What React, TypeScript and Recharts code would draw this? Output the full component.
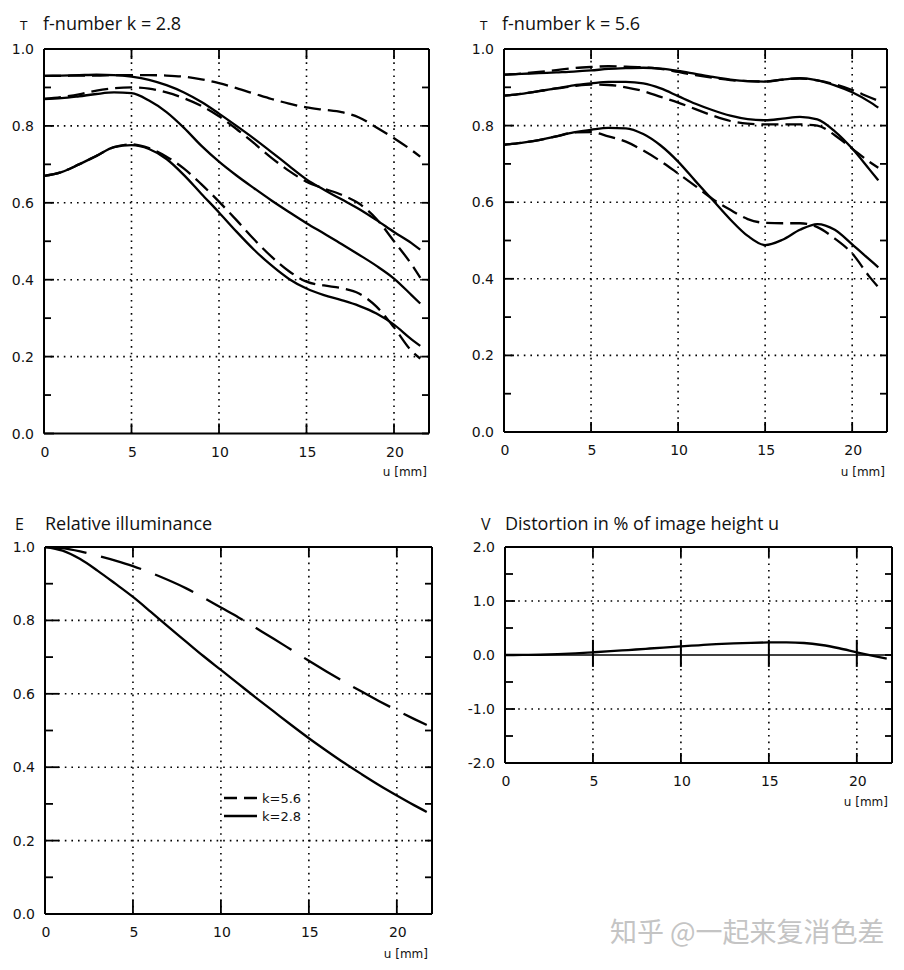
import React from 'react';
import { LineChart, Line, XAxis, YAxis, ReferenceLine } from 'recharts';

// ---------- data ----------
const uTop = [0, 1, 2, 3, 4, 5, 6, 7, 8, 9, 10, 11, 12, 13, 14, 15, 16, 17, 18, 19, 20, 21, 21.5];
const uBottom = [0, 1, 2, 3, 4, 5, 6, 7, 8, 9, 10, 11, 12, 13, 14, 15, 16, 17, 18, 19, 20, 21, 21.7];

// f-number k = 2.8 (solid / dashed pairs)
const k28Solid1 = [0.93, 0.931, 0.932, 0.933, 0.932, 0.928, 0.92, 0.906, 0.887, 0.862, 0.832, 0.8, 0.767, 0.732, 0.696, 0.661, 0.634, 0.609, 0.584, 0.555, 0.524, 0.495, 0.478];
const k28Dash1 = [0.93, 0.93, 0.931, 0.931, 0.932, 0.932, 0.932, 0.931, 0.928, 0.921, 0.911, 0.898, 0.884, 0.87, 0.858, 0.848, 0.842, 0.836, 0.822, 0.796, 0.768, 0.737, 0.72];
const k28Solid2 = [0.87, 0.872, 0.877, 0.883, 0.887, 0.885, 0.866, 0.836, 0.795, 0.748, 0.707, 0.671, 0.638, 0.606, 0.576, 0.547, 0.52, 0.493, 0.465, 0.436, 0.403, 0.36, 0.338];
const k28Dash2 = [0.87, 0.875, 0.882, 0.892, 0.898, 0.9, 0.897, 0.887, 0.872, 0.852, 0.825, 0.792, 0.755, 0.717, 0.683, 0.655, 0.637, 0.621, 0.598, 0.558, 0.5, 0.44, 0.405];
const k28Solid3 = [0.67, 0.68, 0.7, 0.722, 0.745, 0.75, 0.74, 0.714, 0.672, 0.623, 0.575, 0.525, 0.478, 0.437, 0.402, 0.377, 0.36, 0.347, 0.332, 0.312, 0.283, 0.245, 0.228];
const k28Dash3 = [0.67, 0.68, 0.7, 0.722, 0.745, 0.752, 0.742, 0.72, 0.689, 0.648, 0.603, 0.555, 0.505, 0.46, 0.422, 0.395, 0.385, 0.378, 0.364, 0.33, 0.276, 0.215, 0.195];

// f-number k = 5.6
const k56Solid1 = [0.933, 0.935, 0.937, 0.939, 0.941, 0.944, 0.948, 0.95, 0.951, 0.949, 0.943, 0.935, 0.927, 0.92, 0.916, 0.915, 0.92, 0.924, 0.918, 0.905, 0.887, 0.862, 0.847];
const k56Dash1 = [0.933, 0.936, 0.94, 0.945, 0.95, 0.953, 0.955, 0.954, 0.952, 0.948, 0.94, 0.932, 0.925, 0.919, 0.916, 0.915, 0.92, 0.923, 0.918, 0.908, 0.893, 0.874, 0.865];
const k56Solid2 = [0.878, 0.883, 0.89, 0.897, 0.905, 0.91, 0.914, 0.914, 0.91, 0.897, 0.877, 0.857, 0.84, 0.826, 0.817, 0.814, 0.818, 0.823, 0.816, 0.785, 0.74, 0.685, 0.657];
const k56Dash2 = [0.878, 0.883, 0.89, 0.897, 0.903, 0.907, 0.906, 0.9, 0.89, 0.875, 0.86, 0.843, 0.826, 0.812, 0.805, 0.803, 0.803, 0.803, 0.8, 0.775, 0.74, 0.705, 0.69];
const k56Solid3 = [0.75, 0.755, 0.762, 0.772, 0.782, 0.789, 0.794, 0.793, 0.778, 0.748, 0.706, 0.655, 0.605, 0.555, 0.512, 0.488, 0.502, 0.528, 0.543, 0.528, 0.49, 0.45, 0.43];
const k56Dash3 = [0.75, 0.755, 0.762, 0.772, 0.782, 0.783, 0.772, 0.758, 0.735, 0.707, 0.675, 0.642, 0.608, 0.58, 0.556, 0.546, 0.545, 0.545, 0.535, 0.505, 0.466, 0.405, 0.378];

// relative illuminance
const illumK56 = [1.0, 0.997, 0.988, 0.976, 0.963, 0.948, 0.93, 0.91, 0.888, 0.862, 0.835, 0.808, 0.779, 0.75, 0.72, 0.69, 0.661, 0.633, 0.606, 0.58, 0.555, 0.531, 0.515];
const illumK28 = [1.0, 0.99, 0.967, 0.935, 0.9, 0.864, 0.824, 0.783, 0.743, 0.703, 0.665, 0.627, 0.589, 0.552, 0.515, 0.479, 0.445, 0.412, 0.381, 0.351, 0.323, 0.296, 0.278];

// distortion in %
const distortion = [0, 0.001, 0.005, 0.015, 0.03, 0.05, 0.07, 0.092, 0.115, 0.138, 0.16, 0.18, 0.2, 0.215, 0.226, 0.232, 0.233, 0.222, 0.185, 0.125, 0.05, -0.02, -0.065];

// ticks
const xTicks = [0, 5, 10, 15, 20];
const xGrid = [5, 10, 15, 20];
const yTicksUnit = [0, 0.1, 0.2, 0.3, 0.4, 0.5, 0.6, 0.7, 0.8, 0.9, 1.0];
const yGridUnit = [0.2, 0.4, 0.6, 0.8];
const yTicksDist = [-2, -1.5, -1, -0.5, 0, 0.5, 1, 1.5, 2];
const yGridDist = [-1, 1];

// titles
const titleTL = 'f-number k = 2.8';
const titleTR = 'f-number k = 5.6';
const titleBL = 'Relative illuminance';
const titleBR = 'Distortion in % of image height u';
const legendLabels = ['k=5.6', 'k=2.8'];
const watermark = '知乎 @一起来复消色差';

// ---------- helpers ----------
const TICK_FONT = '"DejaVu Sans", sans-serif';
const TITLE_FONT = '"Open Sans", sans-serif';
const INK = '#111';

const PAD_L = 60;
const PAD_R = 12;
const PAD_T = 10;
const PAD_B = 30;

type Series = { key: string; dash?: string };

type PanelProps = {
  px: number;
  py: number;
  pw: number;
  ph: number;
  data: any[];
  series: Series[];
  yDomain: [number, number];
  yTicks: number[];
  yGrid: number[];
  yLabeled: (v: number) => boolean;
  yMinor: number;
  yMajor: number;
  xTickLen: number;
  zeroLine?: boolean;
};

function makeYTick(pw: number, labeled: (v: number) => boolean, minor: number, major: number) {
  return (props: any) => {
    const { x, y, payload } = props;
    const v = payload.value as number;
    const lab = labeled(v);
    const len = lab ? major : minor;
    return (
      <g>
        <line x1={x} x2={x + len} y1={y} y2={y} stroke="#000" strokeWidth={1.8} />
        <line x1={x + pw - 7} x2={x + pw} y1={y} y2={y} stroke="#000" strokeWidth={1.8} />
        {lab && (
          <text x={x - 10} y={y} textAnchor="end" dominantBaseline="central" fontFamily={TICK_FONT} fontSize={14} fill={INK}>
            {v.toFixed(1)}
          </text>
        )}
      </g>
    );
  };
}

function makeXTick(ph: number, len: number) {
  return (props: any) => {
    const { x, y, payload } = props;
    return (
      <g>
        <line x1={x} x2={x} y1={y} y2={y - len} stroke="#000" strokeWidth={1.8} />
        <line x1={x} x2={x} y1={y - ph} y2={y - ph + 10} stroke="#000" strokeWidth={1.8} />
        <text x={x + 1} y={y + 18} textAnchor="middle" dominantBaseline="central" fontFamily={TICK_FONT} fontSize={14} fill={INK}>
          {payload.value}
        </text>
      </g>
    );
  };
}

function Panel(p: PanelProps) {
  const W = p.pw + PAD_L + PAD_R;
  const H = p.ph + PAD_T + PAD_B;
  const [lo, hi] = p.yDomain;
  return (
    <div style={{ position: 'absolute', left: p.px - PAD_L, top: p.py - PAD_T }}>
      <LineChart width={W} height={H} data={p.data} margin={{ top: PAD_T, right: PAD_R, left: 0, bottom: 0 }}>
        <XAxis
          dataKey="u"
          type="number"
          domain={[0, 22]}
          ticks={xTicks}
          interval={0}
          tickSize={0}
          tickMargin={0}
          axisLine={false}
          tickLine={false}
          height={PAD_B}
          tick={makeXTick(p.ph, p.xTickLen)}
          allowDataOverflow
        />
        <YAxis
          type="number"
          domain={p.yDomain}
          ticks={p.yTicks}
          interval={0}
          tickSize={0}
          tickMargin={0}
          axisLine={false}
          tickLine={false}
          width={PAD_L}
          tick={makeYTick(p.pw, p.yLabeled, p.yMinor, p.yMajor)}
          allowDataOverflow
        />
        {xGrid.map((g) => (
          <ReferenceLine key={'gx' + g} x={g} stroke="#000" strokeWidth={1.6} strokeDasharray="1.6 5" />
        ))}
        {p.yGrid.map((g) => (
          <ReferenceLine key={'gy' + g} y={g} stroke="#000" strokeWidth={1.6} strokeDasharray="1.6 5" />
        ))}
        {p.zeroLine && <ReferenceLine y={0} stroke="#000" strokeWidth={1.4} />}
        {p.zeroLine &&
          xGrid.map((g) => (
            <ReferenceLine
              key={'zt' + g}
              segment={[
                { x: g, y: -0.22 },
                { x: g, y: 0.28 },
              ]}
              stroke="#000"
              strokeWidth={2}
            />
          ))}
        <ReferenceLine x={0} stroke="#000" strokeWidth={2} />
        <ReferenceLine x={22} stroke="#000" strokeWidth={2} />
        <ReferenceLine y={lo} stroke="#000" strokeWidth={2} />
        <ReferenceLine y={hi} stroke="#000" strokeWidth={2} />
        {p.series.map((s) => (
          <Line
            key={s.key}
            dataKey={s.key}
            type="monotone"
            stroke="#000"
            strokeWidth={2.3}
            strokeDasharray={s.dash}
            dot={false}
            activeDot={false}
            isAnimationActive={false}
          />
        ))}
      </LineChart>
    </div>
  );
}

const dataTL = uTop.map((u, i) => ({ u, s1: k28Solid1[i], d1: k28Dash1[i], s2: k28Solid2[i], d2: k28Dash2[i], s3: k28Solid3[i], d3: k28Dash3[i] }));
const dataTR = uTop.map((u, i) => ({ u, s1: k56Solid1[i], d1: k56Dash1[i], s2: k56Solid2[i], d2: k56Dash2[i], s3: k56Solid3[i], d3: k56Dash3[i] }));
const dataBL = uBottom.map((u, i) => ({ u, k56: illumK56[i], k28: illumK28[i] }));
const dataBR = uBottom.map((u, i) => ({ u, v: distortion[i] }));

const SHORT_DASH = '17 7';
const mtfSeries: Series[] = [
  { key: 's1' },
  { key: 'd1', dash: SHORT_DASH },
  { key: 's2' },
  { key: 'd2', dash: SHORT_DASH },
  { key: 's3' },
  { key: 'd3', dash: SHORT_DASH },
];

const evenTenth = (v: number) => Math.round(v * 10) % 2 === 0;
const integer = (v: number) => Math.abs(v - Math.round(v)) < 1e-6;

export default function App() {
  return (
    <div style={{ position: 'absolute', left: 0, top: 0, width: 904, height: 970, background: '#fff', overflow: 'hidden' }}>
      <Panel px={44} py={49} pw={385} ph={384.5} data={dataTL} series={mtfSeries} yDomain={[0, 1]} yTicks={yTicksUnit} yGrid={yGridUnit} yLabeled={evenTenth} yMinor={7} yMajor={10} xTickLen={10} />
      <Panel px={504} py={49} pw={383} ph={383} data={dataTR} series={mtfSeries} yDomain={[0, 1]} yTicks={yTicksUnit} yGrid={yGridUnit} yLabeled={evenTenth} yMinor={7} yMajor={10} xTickLen={10} />
      <Panel
        px={45}
        py={547}
        pw={387}
        ph={367}
        data={dataBL}
        series={[
          { key: 'k56', dash: '42 15' },
          { key: 'k28' },
        ]}
        yDomain={[0, 1]}
        yTicks={yTicksUnit}
        yGrid={yGridUnit}
        yLabeled={evenTenth}
        yMinor={8}
        yMajor={14}
        xTickLen={14}
      />
      <Panel px={505} py={547} pw={387} ph={216} data={dataBR} series={[{ key: 'v' }]} yDomain={[-2, 2]} yTicks={yTicksDist} yGrid={yGridDist} yLabeled={integer} yMinor={8} yMajor={10} xTickLen={10} zeroLine />

      <svg width={904} height={970} style={{ position: 'absolute', left: 0, top: 0, pointerEvents: 'none' }}>
        {/* titles */}
        <text x={20} y={30} fontFamily={TICK_FONT} fontSize={12} fill={INK}>T</text>
        <text x={43} y={30} fontFamily={TITLE_FONT} fontSize={18} fill={INK}>{titleTL}</text>
        <text x={480} y={30} fontFamily={TICK_FONT} fontSize={12} fill={INK}>T</text>
        <text x={502} y={30} fontFamily={TITLE_FONT} fontSize={18} fill={INK}>{titleTR}</text>
        <text x={15} y={530} fontFamily={TITLE_FONT} fontSize={16} fill={INK}>E</text>
        <text x={45} y={530} fontFamily={TITLE_FONT} fontSize={18} fill={INK}>{titleBL}</text>
        <text x={481} y={530} fontFamily={TITLE_FONT} fontSize={16} fill={INK}>V</text>
        <text x={505} y={530} fontFamily={TITLE_FONT} fontSize={18} fill={INK}>{titleBR}</text>

        {/* axis units */}
        <text x={427} y={476} textAnchor="end" fontFamily={TICK_FONT} fontSize={12} fill={INK}>u [mm]</text>
        <text x={885} y={476} textAnchor="end" fontFamily={TICK_FONT} fontSize={12} fill={INK}>u [mm]</text>
        <text x={428} y={958} textAnchor="end" fontFamily={TICK_FONT} fontSize={12} fill={INK}>u [mm]</text>
        <text x={888} y={806} textAnchor="end" fontFamily={TICK_FONT} fontSize={12} fill={INK}>u [mm]</text>

        {/* legend */}
        <line x1={224} x2={257} y1={798} y2={798} stroke="#000" strokeWidth={2.4} strokeDasharray="13 7" />
        <text x={262} y={798} dominantBaseline="central" fontFamily={TICK_FONT} fontSize={13} fill={INK}>{legendLabels[0]}</text>
        <line x1={224} x2={257} y1={816} y2={816} stroke="#000" strokeWidth={2.4} />
        <text x={262} y={816} dominantBaseline="central" fontFamily={TICK_FONT} fontSize={13} fill={INK}>{legendLabels[1]}</text>

        {/* watermark */}
        <text x={610} y={942} fontFamily='"Noto Sans CJK SC", sans-serif' fontSize={27} fill="#c4c4c4">{watermark}</text>
      </svg>
    </div>
  );
}
